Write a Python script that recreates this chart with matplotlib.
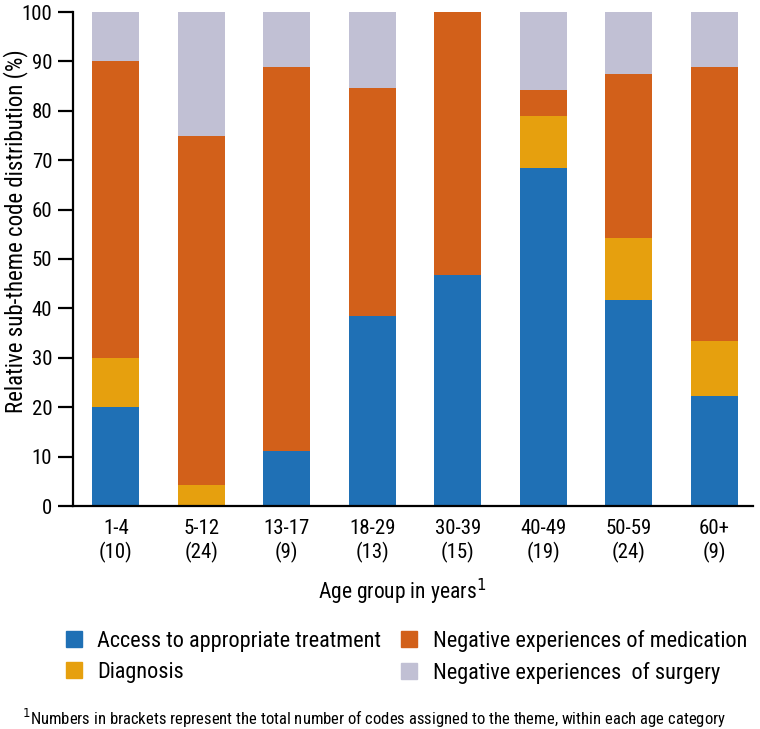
import matplotlib
matplotlib.use("Agg")
import matplotlib.pyplot as plt
from matplotlib.patches import Patch

plt.rcParams["font.family"] = ["Roboto Condensed", "Liberation Sans Narrow", "Roboto", "DejaVu Sans"]

# age groups and code counts (from the tick labels)
ages = ["1-4", "5-12", "13-17", "18-29", "30-39", "40-49", "50-59", "60+"]
counts = [10, 24, 9, 13, 15, 19, 24, 9]

# share of each sub-theme (%)
access = [20.0, 0.0, 11.1, 38.5, 46.7, 68.4, 41.7, 22.2]
diagnosis = [10.0, 4.2, 0.0, 0.0, 0.0, 10.5, 12.5, 11.1]
medication = [60.0, 70.8, 77.8, 46.2, 53.3, 5.3, 33.3, 55.6]
surgery = [10.0, 25.0, 11.1, 15.3, 0.0, 15.8, 12.5, 11.1]

C_ACCESS = "#1f70b5"
C_DIAG = "#e6a00e"
C_MED = "#d2601a"
C_SURG = "#c1c0d4"

fig = plt.figure(figsize=(7.6, 7.29), dpi=100)
# spine x 73..753, y 12..506 (pixels)
ax = fig.add_axes([73 / 760, 1 - 506 / 729, 680 / 760, 494 / 729])

x = list(range(len(ages)))
w = 0.55
bottom = [0.0] * len(ages)
for vals, col in ((access, C_ACCESS), (diagnosis, C_DIAG),
                  (medication, C_MED), (surgery, C_SURG)):
    ax.bar(x, vals, w, bottom=bottom, color=col, linewidth=0)
    bottom = [b + v for b, v in zip(bottom, vals)]

ax.set_xlim(-0.5, 7.45)
ax.set_ylim(0, 100)
ax.set_yticks(range(0, 101, 10))
ax.set_xticks(x)
ax.set_xticklabels([f"{a}\n({n})" for a, n in zip(ages, counts)], fontsize=15,
                   linespacing=1.25)
ax.tick_params(axis="y", labelsize=15, length=11, width=1.6, direction="out", pad=4)
ax.tick_params(axis="x", length=0, pad=9)
for s in ("top", "right"):
    ax.spines[s].set_visible(False)
for s in ("left", "bottom"):
    ax.spines[s].set_linewidth(1.6)

ax.set_ylabel("Relative sub-theme code distribution (%)", fontsize=16.5)
ax.yaxis.set_label_coords(-0.066, 0.556)
fig.text(402 / 760, 1 - 592 / 729, "Age group in years$^{1}$", ha="center", va="center",
         fontsize=15.5)

handles = [Patch(color=C_ACCESS, label="Access to appropriate treatment"),
           Patch(color=C_DIAG, label="Diagnosis"),
           Patch(color=C_MED, label="Negative experiences of medication"),
           Patch(color=C_SURG, label="Negative experiences  of surgery")]
fig.legend(handles=handles, ncol=2, loc="center", bbox_to_anchor=(0.535, 1 - 657 / 729),
           frameon=False, fontsize=16, handlelength=0.7, handleheight=0.7,
           handletextpad=0.7, columnspacing=0.9, labelspacing=0.45)

fig.text(22 / 760, 1 - 718 / 729,
         "$^{1}$Numbers in brackets represent the total number of codes assigned to the theme, within each age category",
         ha="left", va="center", fontsize=12)

fig.savefig("out.png", dpi=100)
